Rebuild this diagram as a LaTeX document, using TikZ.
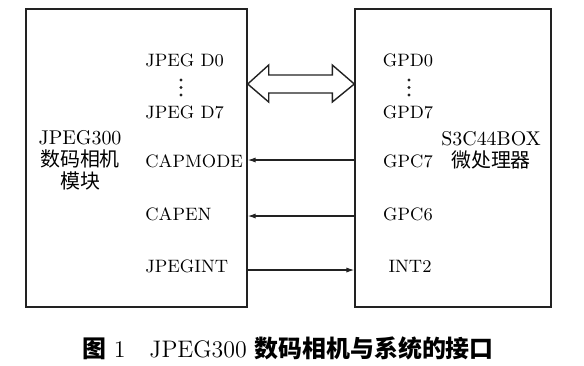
\documentclass[tikz,border=0pt]{standalone}
\usepackage{fontspec}
\usepackage{tikz}
\usetikzlibrary{arrows.meta,positioning,calc}
\newfontfamily\cjk{Noto Sans CJK SC}
\definecolor{board-line}{HTML}{222222}

\tikzset{
  block/.style={draw=board-line,line width=0.7pt,inner sep=0pt},
  pin/.style={font=\small,inner sep=1pt},
  sig/.style={draw=board-line,line width=0.6pt,-{Latex[length=4pt,width=2.6pt]}},
}

\begin{document}
\begin{tikzpicture}[x=0.5bp,y=-0.5bp]
  \useasboundingbox (0,0) rectangle (584,365);
  % the two boards
  \node[block,minimum width=110.5bp,minimum height=149bp] (cam) at (136.5,158) {};
  \node[block,minimum width=98bp,minimum height=149bp] (cpu) at (453,158) {};
  \node[align=center,inner sep=0pt] (camname) at (80,160)
    {JPEG300\\[-1pt]{\cjk 数码相机}\\[-1pt]{\cjk 模块}};
  \node[align=center,inner sep=0pt] (cpuname) at (491,150)
    {S3C44BOX\\[-1pt]{\cjk 微处理器}};

  % camera side pins
  \node[pin,anchor=west] (d0) at (143,60) {JPEG D0};
  \node[pin,anchor=west] (d7) at (143,112) {JPEG D7};
  \node[pin,anchor=west] (capmode) at (143,161) {CAPMODE};
  \node[pin,anchor=west] (capen) at (143,214) {CAPEN};
  \node[pin,anchor=west] (jpegint) at (143,266) {JPEGINT};

  % processor side pins
  \node[pin] (gpd0) at (408,60) {GPD0};
  \node[pin] (gpd7) at (408,112) {GPD7};
  \node[pin] (gpc7) at (408,161) {GPC7};
  \node[pin] (gpc6) at (408,214) {GPC6};
  \node[pin] (int2) at (410,266) {INT2};

  % dots between D0 and D7
  \foreach \y in {80,87.5,95} {
    \fill[board-line] (181,\y) circle (0.8bp);
    \fill[board-line] (409,\y) circle (0.8bp);
  }

  % data bus
  \coordinate (busL) at (cam.east |- 0,84);
  \coordinate (busR) at (cpu.west |- 0,84);
  \draw[board-line,line width=0.7pt,line join=miter]
    (busL) -- ++(21,-19) -- ++(0,10) -- ($(busR)+(-22,-9)$) -- ++(0,-10)
    -- (busR) -- ++(-22,18) -- ++(0,-9) -- ($(busL)+(21,9)$) -- ++(0,9) -- cycle;

  % control lines
  \draw[sig] ([yshift=0.5bp]cpu.west |- gpc7) -- ([yshift=0.5bp]cam.east |- capmode);
  \draw[sig] ([yshift=-1bp]cpu.west |- gpc6) -- ([yshift=-1bp]cam.east |- capen);
  \draw[sig] ([yshift=-2bp]cam.east |- jpegint) -- ([yshift=-2bp]cpu.west |- int2);

  % caption
  \node[font=\large] (caption) at (288,348)
    {{\cjk\bfseries 图} 1\quad JPEG300 {\cjk\bfseries 数码相机与系统的接口}};
\end{tikzpicture}
\end{document}
